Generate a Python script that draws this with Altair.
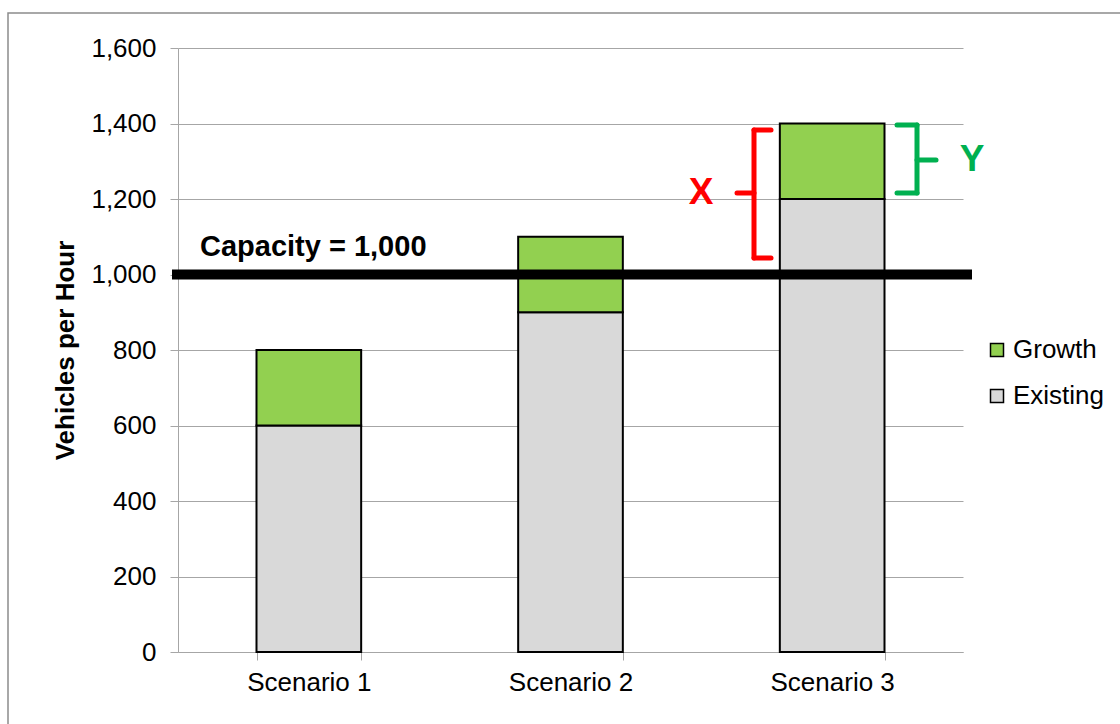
import altair as alt
import pandas as pd

# Traffic volumes per scenario (vehicles per hour)
scenarios = ["Scenario 1", "Scenario 2", "Scenario 3"]
existing = [600, 900, 1200]
growth = [200, 200, 200]
capacity = 1000

series_names = ["Growth", "Existing"]
series_colors = ["#92D050", "#D9D9D9"]

FONT = "Liberation Sans"
GRID = "#A6A6A6"

rows = []
for s, e, g in zip(scenarios, existing, growth):
    rows.append({"scenario": s, "series": "Existing", "value": e, "stack": 0})
    rows.append({"scenario": s, "series": "Growth", "value": g, "stack": 1})
bars_df = pd.DataFrame(rows)

total_3 = existing[2] + growth[2]
cap_df = pd.DataFrame({"capacity": [capacity], "label": [f"Capacity = {capacity:,}"]})

# Brace extents (data units): X spans capacity -> total, Y spans the growth slice
x_brace = pd.DataFrame({"top": [total_3 - 17], "bot": [capacity + 44],
                        "mid": [(total_3 + capacity) / 2 + 16], "txt": ["X"]})
y_brace = pd.DataFrame({"top": [total_3 - 4], "bot": [existing[2] + 16],
                        "mid": [existing[2] + growth[2] / 2 + 3], "txt": ["Y"]})

x_enc = alt.X("scenario:N", sort=scenarios, title=None,
              scale=alt.Scale(paddingInner=0.6, paddingOuter=0.3),
              axis=alt.Axis(labelAngle=0, tickBand="extent", tickSize=8,
                            tickColor=GRID, domainColor=GRID, labelPadding=9,
                            labelFontSize=26, labelFont=FONT, labelColor="#000000",
                            grid=False))
y_enc = alt.Y("sum(value):Q", title="Vehicles per Hour",
              scale=alt.Scale(domain=[0, 1600], nice=False),
              axis=alt.Axis(values=list(range(0, 1601, 200)), format=",d",
                            tickSize=8, tickColor=GRID, domainColor=GRID,
                            gridColor=GRID, labelPadding=14,
                            labelFontSize=26, labelFont=FONT, labelColor="#000000",
                            titleFontSize=26, titleFont=FONT, titleFontWeight="bold",
                            titleColor="#000000", titlePadding=12))

bars = alt.Chart(bars_df).mark_bar(stroke="#000000", strokeWidth=2).encode(
    x=x_enc,
    y=y_enc,
    color=alt.Color("series:N",
                    scale=alt.Scale(domain=series_names, range=series_colors),
                    legend=alt.Legend(title=None, orient="none", legendX=806, legendY=289,
                                      symbolType="square", symbolSize=169,
                                      symbolStrokeColor="#000000", symbolStrokeWidth=1.5,
                                      labelFontSize=26, labelFont=FONT, labelColor="#000000",
                                      labelOffset=3, rowPadding=20, padding=0)),
    order=alt.Order("stack:Q", sort="ascending"),
)

yq = alt.Scale(domain=[0, 1600], nice=False)

cap_line = alt.Chart(cap_df).mark_rule(color="#000000", strokeWidth=10).encode(
    y=alt.Y("capacity:Q", scale=yq),
    x=alt.value(-6), x2=alt.value(794),
)
cap_text = alt.Chart(cap_df).mark_text(
    align="left", baseline="alphabetic", dy=-19, font=FONT, fontSize=29,
    fontWeight="bold", color="#000000",
).encode(y=alt.Y("capacity:Q", scale=yq), x=alt.value(22), text="label:N")


def brace(df, color, spine, arm, nub):
    """Curly brace: a vertical spine, two arms at the ends and a nub at the middle."""
    base = alt.Chart(df).mark_rule(color=color, strokeWidth=5, strokeCap="round")
    vert = base.encode(y=alt.Y("top:Q", scale=yq), y2="bot:Q", x=alt.value(spine))
    top = base.encode(y=alt.Y("top:Q", scale=yq), x=alt.value(spine), x2=alt.value(arm))
    bot = base.encode(y=alt.Y("bot:Q", scale=yq), x=alt.value(spine), x2=alt.value(arm))
    mid = base.encode(y=alt.Y("mid:Q", scale=yq), x=alt.value(spine), x2=alt.value(nub))
    return [vert, top, bot, mid]


red_brace = brace(x_brace, "#FF0000", 576, 593, 559)
green_brace = brace(y_brace, "#00B050", 739, 719, 758)

x_label = alt.Chart(x_brace).mark_text(
    font=FONT, fontSize=37, fontWeight="bold", color="#FF0000", baseline="middle",
).encode(y=alt.Y("mid:Q", scale=yq), x=alt.value(523), text="txt:N")
y_label = alt.Chart(y_brace).mark_text(
    font=FONT, fontSize=37, fontWeight="bold", color="#00B050", baseline="middle",
).encode(y=alt.Y("mid:Q", scale=yq), x=alt.value(794), text="txt:N")

frame = alt.Chart(pd.DataFrame({"k": [0]})).mark_rect(
    fill="transparent", stroke="#8C8C8C", strokeWidth=1.5,
).encode(x=alt.value(-170), x2=alt.value(1000), y=alt.value(-35), y2=alt.value(720))

chart = alt.layer(
    frame, bars, cap_line, cap_text, *red_brace, *green_brace, x_label, y_label,
).properties(
    width=785, height=604,
    padding={"left": 178, "top": 48, "right": 157, "bottom": 72},
    autosize="none", background="#FFFFFF",
).configure_view(stroke=None).configure_axis(gridWidth=1, domainWidth=1, tickWidth=1)

chart.save("out.html", embed_options={"renderer": "svg", "actions": False})
